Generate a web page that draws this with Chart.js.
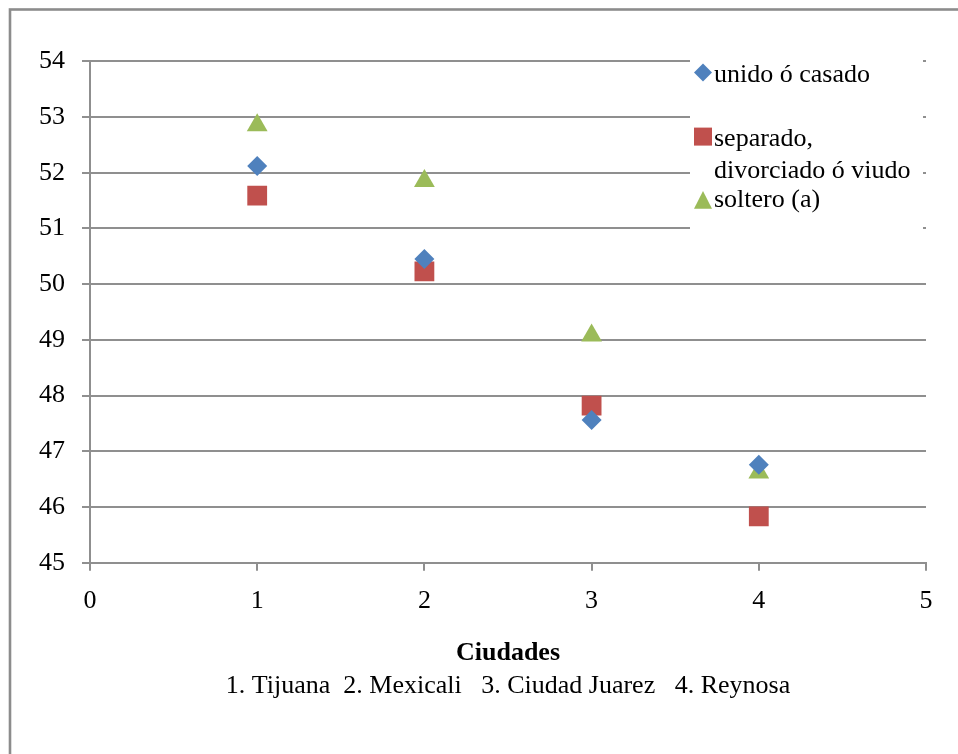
<!DOCTYPE html>
<html><head><meta charset="utf-8">
<script src="https://cdn.jsdelivr.net/npm/chart.js@4.4.1/dist/chart.umd.min.js"></script>
<style>html,body{margin:0;padding:0;background:#fff}#wrap{width:958px;height:754px;position:relative}</style>
</head><body><div id="wrap"><canvas id="c" width="958" height="754"></canvas></div>
<script>
// ---- data ----
const cityIndex = [1, 2, 3, 4];
const cities = ['Tijuana', 'Mexicali', 'Ciudad Juarez', 'Reynosa'];
const unidoCasado = [52.12, 50.45, 47.56, 46.76];
const separadoDivorciadoViudo = [51.59, 50.23, 47.82, 45.83];
const soltero = [52.85, 51.85, 49.08, 46.62];
const seriesLabels = ['unido ó casado', 'separado, divorciado ó viudo', 'soltero (a)'];
const legendLines = [['unido ó casado'], ['separado,', 'divorciado ó viudo'], ['soltero (a)']];
const xTicks = [0, 1, 2, 3, 4, 5];
const yTicks = [45, 46, 47, 48, 49, 50, 51, 52, 53, 54];
const xTitle = 'Ciudades';
const xSubtitle = '1. Tijuana  2. Mexicali   3. Ciudad Juarez   4. Reynosa';

const FONT = '"Liberation Serif", "Times New Roman", serif';
const GRID = '#8f8f8f';
const colors = ['#4F81BD', '#C0504D', '#9BBB59'];

function pts(vals) { return cityIndex.map((x, i) => ({x: x, y: vals[i]})); }

function marker(ctx, style, x, y, s) {
  ctx.beginPath();
  if (style === 'rectRot') {
    ctx.moveTo(x - s, y); ctx.lineTo(x, y - s); ctx.lineTo(x + s, y); ctx.lineTo(x, y + s);
  } else if (style === 'rect') {
    ctx.rect(x - s, y - s, 2 * s, 2 * s);
  } else {
    ctx.moveTo(x, y - s); ctx.lineTo(x + s, y + s * 0.98); ctx.lineTo(x - s, y + s * 0.98);
  }
  ctx.closePath();
  ctx.fill();
}

const frame = {
  id: 'frame',
  beforeDraw(chart) {
    const ctx = chart.ctx;
    ctx.save();
    ctx.strokeStyle = '#8c8c8c';
    ctx.lineWidth = 2.6;
    ctx.strokeRect(10, 9.5, 1200, 1200);
    ctx.restore();
  }
};

const legendBox = {
  id: 'legendBox',
  afterDraw(chart) {
    const ctx = chart.ctx, a = chart.chartArea;
    ctx.save();
    ctx.fillStyle = '#ffffff';
    ctx.fillRect(a.right - 236, a.top - 8, 233, 184);
    const baselines = [[20.7], [84.7, 116.7], [145.7]];
    const mx = a.right - 223;
    const tx = a.right - 212;
    ctx.font = '26px ' + FONT;
    ctx.textBaseline = 'alphabetic';
    ctx.textAlign = 'left';
    chart.data.datasets.forEach((ds, i) => {
      const b0 = a.top + baselines[i][0];
      ctx.fillStyle = ds.backgroundColor;
      marker(ctx, ds.pointStyle, mx, b0 - (ds.pointStyle === 'triangle' ? 7 : 9.4), 9);
      ctx.fillStyle = '#000';
      legendLines[i].forEach((t, j) => ctx.fillText(t, tx, a.top + baselines[i][j]));
    });
    ctx.restore();
  }
};

const subtitle = {
  id: 'subtitle',
  afterDraw(chart) {
    const ctx = chart.ctx, a = chart.chartArea;
    ctx.save();
    ctx.font = '26px ' + FONT;
    ctx.fillStyle = '#000';
    ctx.textAlign = 'center';
    ctx.textBaseline = 'alphabetic';
    ctx.fillText(xSubtitle, (a.left + a.right) / 2, 693);
    ctx.restore();
  }
};

new Chart(document.getElementById('c'), {
  type: 'scatter',
  data: {
    datasets: [
      {label: seriesLabels[0], data: pts(unidoCasado), pointStyle: 'rectRot', pointRadius: 10,
       backgroundColor: colors[0], borderColor: colors[0], pointBorderWidth: 0},
      {label: seriesLabels[1], data: pts(separadoDivorciadoViudo), pointStyle: 'rect', pointRadius: 14,
       backgroundColor: colors[1], borderColor: colors[1], pointBorderWidth: 0},
      {label: seriesLabels[2], data: pts(soltero), pointStyle: 'triangle', pointRadius: 12,
       backgroundColor: colors[2], borderColor: colors[2], pointBorderWidth: 0}
    ]
  },
  options: {
    responsive: false,
    animation: false,
    layout: {padding: {top: 61.3, right: 32, left: 0, bottom: 0}},
    plugins: {legend: {display: false}, tooltip: {enabled: false}},
    scales: {
      x: {
        type: 'linear', min: xTicks[0], max: xTicks[xTicks.length - 1],
        afterBuildTicks: s => { s.ticks = xTicks.map(v => ({value: v})); },
        afterFit: s => { s.height = 191.3; },
        grid: {drawOnChartArea: false, drawTicks: true, tickLength: 8, color: GRID, lineWidth: 2},
        border: {display: true, color: GRID, width: 2},
        ticks: {font: {family: FONT, size: 26}, color: '#000', padding: 15, maxRotation: 0},
        title: {display: true, text: xTitle, color: '#000',
                font: {family: FONT, size: 26, weight: 'bold'}, padding: {top: 0, bottom: 85}}
      },
      y: {
        type: 'linear', min: yTicks[0], max: yTicks[yTicks.length - 1],
        afterBuildTicks: s => { s.ticks = yTicks.map(v => ({value: v})); },
        afterFit: s => { s.width = 90; },
        grid: {drawTicks: true, tickLength: 8, color: GRID, lineWidth: 2},
        border: {display: true, color: GRID, width: 2},
        ticks: {font: {family: FONT, size: 26}, color: '#000', padding: 17}
      }
    }
  },
  plugins: [frame, legendBox, subtitle]
});
</script>
</body></html>
